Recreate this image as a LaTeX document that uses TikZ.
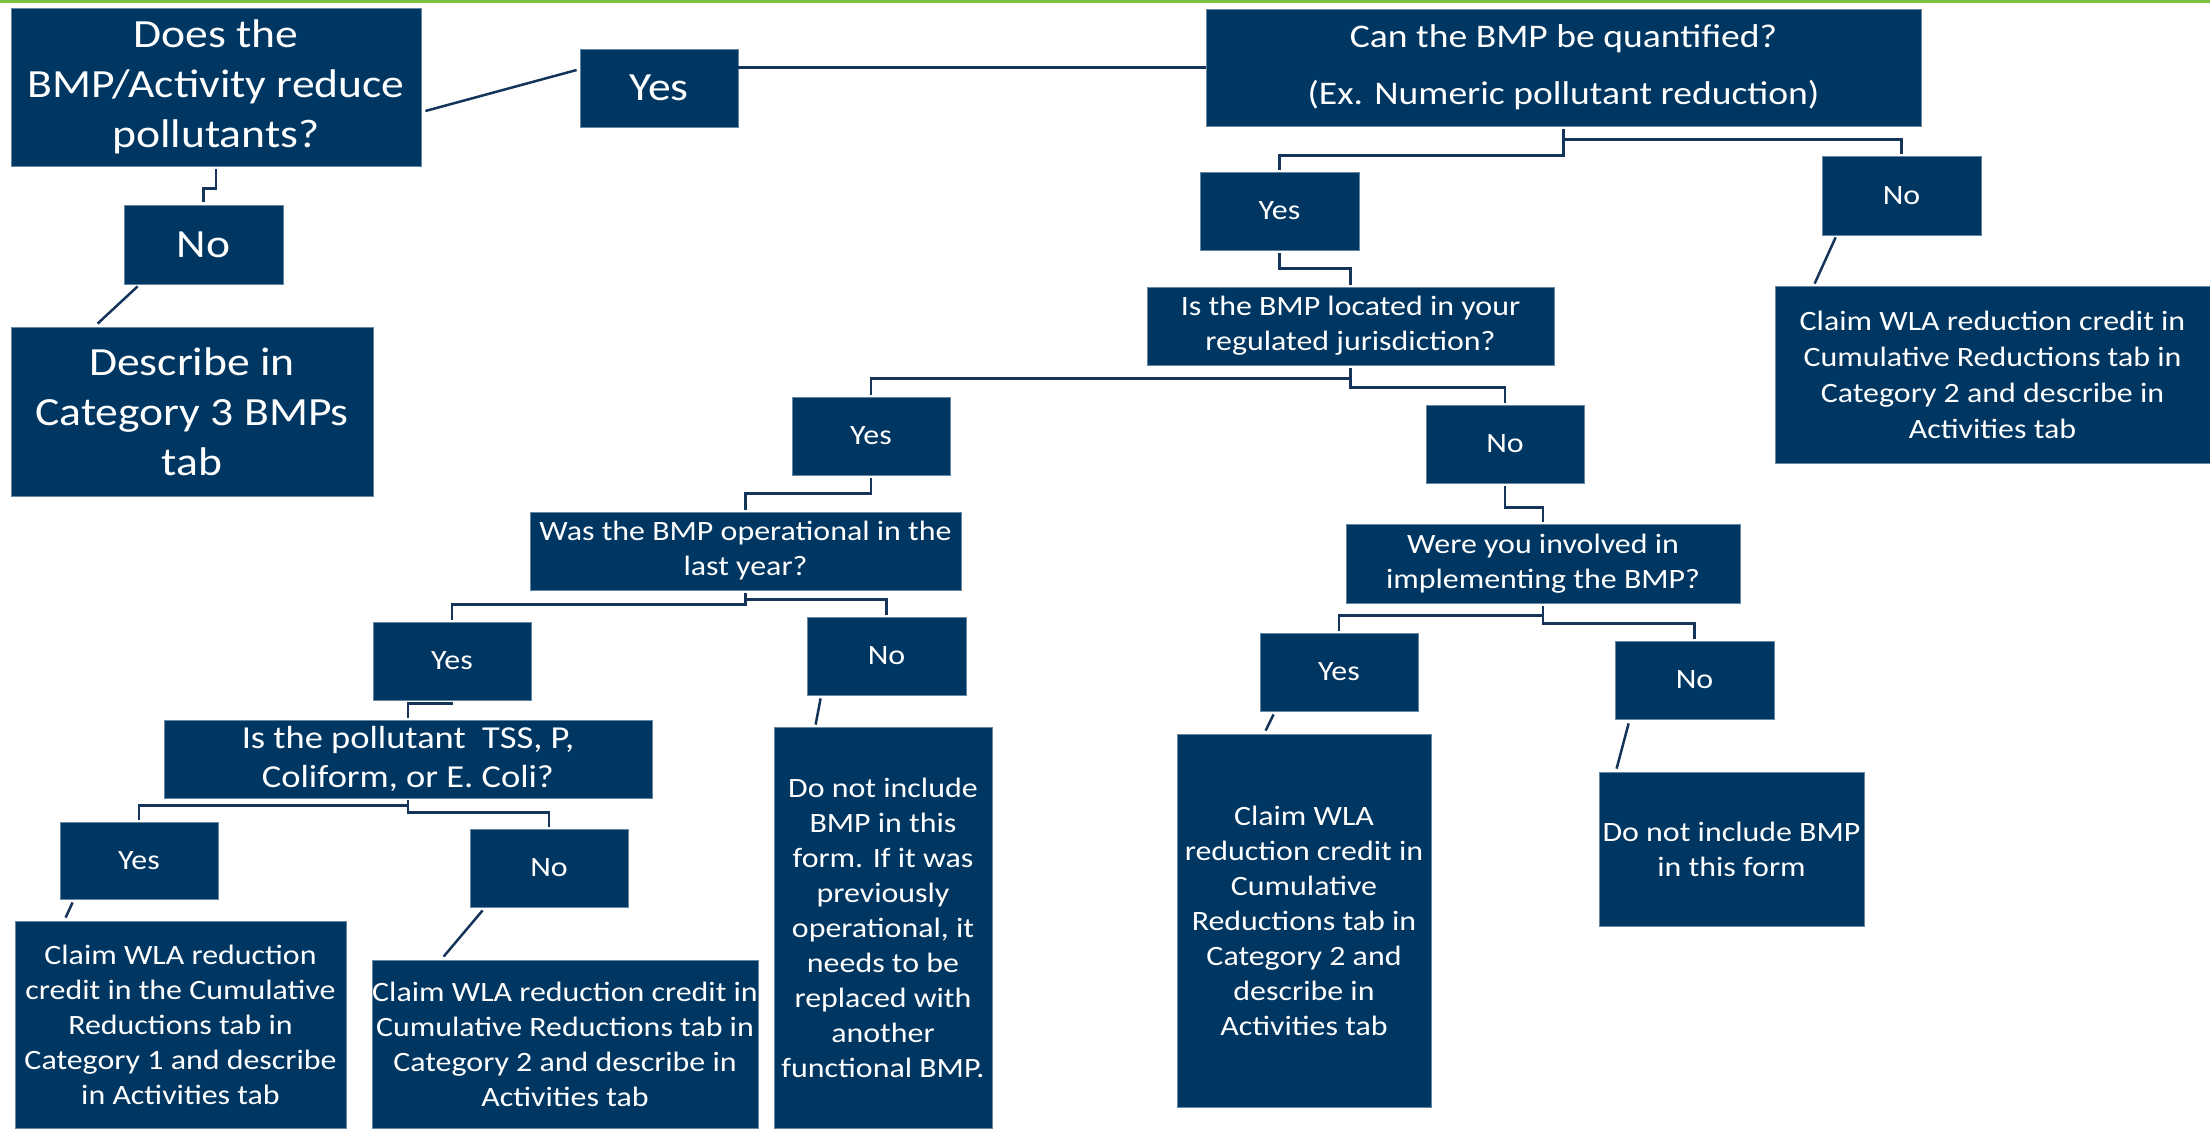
\documentclass[tikz,border=0pt]{standalone}
\usepackage{fontspec}
\setmainfont{Carlito}[FakeStretch=1.14]
\definecolor{navy}{RGB}{0,55,98}
\definecolor{linkc}{RGB}{20,52,90}
\definecolor{topgreen}{RGB}{122,193,66}
\begin{document}
\begin{tikzpicture}[x=1pt,y=-1pt,
  box/.style={fill=navy,text=white,inner sep=0pt,align=center,draw=navy!60!white,line width=0.8pt},
  fbig/.style={font=\fontsize{40}{50}\selectfont},
  fmid/.style={font=\fontsize{32}{39}\selectfont},
  fsml/.style={font=\fontsize{28}{35}\selectfont},
  link/.style={draw=linkc,line width=2.5pt}]
\useasboundingbox (0,0) rectangle (2210,1128);
\fill[topgreen] (0,0) rectangle (2210,3);

% boxes
\node[box,fbig,minimum width=410pt,minimum height=158pt] (A) at (216,87) {Does the\\BMP/Activity reduce\\pollutants?};
\node[box,fbig,minimum width=158pt,minimum height=78pt] (YesTop) at (659,88) {Yes};
\node[box,fbig,minimum width=159pt,minimum height=79pt] (NoTop) at (203.5,244.5) {No};
\node[box,fbig,minimum width=362pt,minimum height=169pt] (Desc) at (192,411.5) {Describe in\\Category 3 BMPs\\tab};
\node[box,font=\fontsize{33}{40}\selectfont,minimum width=715pt,minimum height=117pt] (B) at (1563.5,67.5) {Can the BMP be quantified?\\[17pt](Ex. Numeric pollutant reduction)};
\node[box,fsml,minimum width=159pt,minimum height=78pt] (Yes2) at (1279.5,211) {Yes};
\node[box,fsml,minimum width=159pt,minimum height=79pt] (No2) at (1901.5,195.5) {No};
\node[box,fsml,minimum width=407pt,minimum height=78pt] (C) at (1350.5,326) {Is the BMP located in your\\regulated jurisdiction?};
\node[box,font=\fontsize{28}{36}\selectfont,minimum width=435pt,minimum height=177pt] (R1) at (1992.5,374.5) {Claim WLA reduction credit in\\Cumulative Reductions tab in\\Category 2 and describe in\\Activities tab};
\node[box,fsml,minimum width=158pt,minimum height=78pt] (YesC) at (871,436) {Yes};
\node[box,fsml,minimum width=158pt,minimum height=78pt] (NoC) at (1505,444) {No};
\node[box,fsml,minimum width=431pt,minimum height=78pt] (D) at (745.5,551) {Was the BMP operational in the\\last year?};
\node[box,fsml,minimum width=158pt,minimum height=78pt] (YesD) at (452,661) {Yes};
\node[box,fsml,minimum width=159pt,minimum height=78pt] (NoD) at (886.5,656) {No};
\node[box,fmid,minimum width=488pt,minimum height=78pt] (E) at (408,759) {Is the pollutant\ \ TSS, P,\\Coliform, or E. Coli?};
\node[box,fsml,minimum width=158pt,minimum height=77pt] (YesE) at (139,860.5) {Yes};
\node[box,fsml,minimum width=158pt,minimum height=78pt] (NoE) at (549,868) {No};
\node[box,fsml,minimum width=331pt,minimum height=207pt] (F) at (180.5,1024.5) {Claim WLA reduction\\credit in the Cumulative\\Reductions tab in\\Category 1 and describe\\in Activities tab};
\node[box,fsml,minimum width=386pt,minimum height=168pt] (G) at (565,1044) {Claim WLA reduction credit in\\Cumulative Reductions tab in\\Category 2 and describe in\\Activities tab};
\node[box,fsml,minimum width=218pt,minimum height=401pt] (H) at (883,927.5) {Do not include\\BMP in this\\form. If it was\\previously\\operational, it\\needs to be\\replaced with\\another\\functional BMP.};
\node[box,fsml,minimum width=394pt,minimum height=79pt] (I) at (1543,563.5) {Were you involved in\\implementing the BMP?};
\node[box,fsml,minimum width=158pt,minimum height=78pt] (YesI) at (1339,672) {Yes};
\node[box,fsml,minimum width=159pt,minimum height=78pt] (NoI) at (1694.5,680) {No};
\node[box,fsml,minimum width=254pt,minimum height=373pt] (J) at (1304,920.5) {Claim WLA\\reduction credit in\\Cumulative\\Reductions tab in\\Category 2 and\\describe in\\Activities tab};
\node[box,fsml,minimum width=265pt,minimum height=154pt] (K) at (1731.5,849) {Do not include BMP\\in this form};

% connectors
\draw[link] ([shift={(4pt,-24pt)}]A.east) -- ([shift={(-3pt,18pt)}]YesTop.west);
\draw[link] (YesTop.east |- B.west) -- (B.west);
\draw[link] ([yshift=-3pt]A.south) -- ++(0,19) -| ([yshift=3pt]NoTop.north);
\draw[link] ([shift={(14pt,-2pt)}]NoTop.south west) -- ([shift={(87pt,3pt)}]Desc.north west);
\draw[link] ([yshift=-3pt]B.south) -- ++(0,26) -| ([yshift=2pt]Yes2.north);
\draw[link] ([yshift=-3pt]B.south) -- ++(0,10) -| ([yshift=2pt]No2.north);
\draw[link] ([yshift=-3pt]Yes2.south) -- ++(0,15) -| ([yshift=2pt]C.north);
\draw[link] ([shift={(14pt,-2pt)}]No2.south west) -- ([shift={(40pt,2pt)}]R1.north west);
\draw[link] ([yshift=-3pt]C.south) -- ++(0,10) -| ([yshift=2pt]YesC.north);
\draw[link] ([yshift=-3pt]C.south) -- ++(0,19) -| ([yshift=2pt]NoC.north);
\draw[link] ([yshift=-3pt]YesC.south) -- ++(0,15) -| ([yshift=2pt]D.north);
\draw[link] ([yshift=-3pt]NoC.south) -- ++(0,21) -| ([yshift=2pt]I.north);
\draw[link] ([yshift=-3pt]D.south) -- ++(0,11) -| ([yshift=2pt]YesD.north);
\draw[link] ([yshift=-3pt]D.south) -- ++(0,6) -| ([yshift=2pt]NoD.north);
\draw[link] ([yshift=-2pt]YesD.south) -- ++(0,1) -| ([yshift=2pt]E.north);
\draw[link] ([yshift=-2pt]E.south) -- ++(0,5) -| ([yshift=2pt]YesE.north);
\draw[link] ([yshift=-2pt]E.south) -- ++(0,12) -| ([yshift=2pt]NoE.north);
\draw[link] ([shift={(13pt,-3pt)}]YesE.south west) -- ([shift={(51pt,3pt)}]F.north west);
\draw[link] ([shift={(13pt,-3pt)}]NoE.south west) -- ([shift={(72pt,3pt)}]G.north west);
\draw[link] ([shift={(14pt,-3pt)}]NoD.south west) -- ([shift={(42pt,2pt)}]H.north west);
\draw[link] ([yshift=-3pt]I.south) -- ++(0,9) -| ([yshift=2pt]YesI.north);
\draw[link] ([yshift=-3pt]I.south) -- ++(0,17) -| ([yshift=2pt]NoI.north);
\draw[link] ([shift={(14pt,-3pt)}]YesI.south west) -- ([shift={(89pt,3pt)}]J.north west);
\draw[link] ([shift={(14pt,-4pt)}]NoI.south west) -- ([shift={(18pt,3pt)}]K.north west);
\end{tikzpicture}
\end{document}
